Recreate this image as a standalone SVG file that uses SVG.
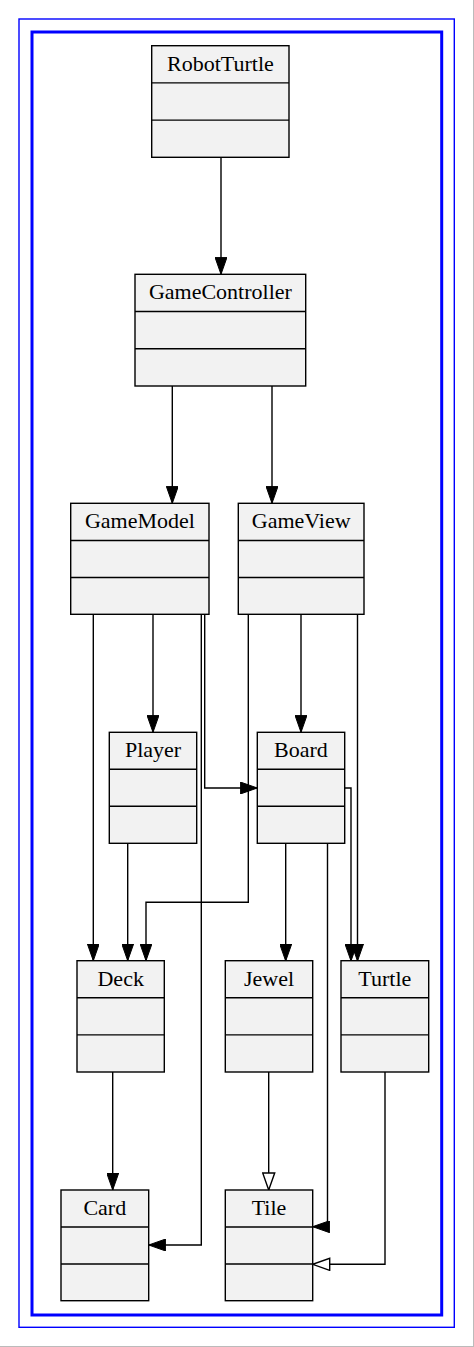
<svg xmlns="http://www.w3.org/2000/svg" width="474" height="1347" viewBox="0 0 474 1347">
<style>
.box{fill:#f2f2f2;stroke:#000;stroke-width:1.4}
.sep{stroke:#000;stroke-width:1.4}
text{font-family:'Liberation Serif','Times New Roman',Times,'DejaVu Serif',serif;font-size:22px;fill:#000;text-anchor:middle}
.e{fill:none;stroke:#000;stroke-width:1.4}
.f{marker-end:url(#filled)}
.h{marker-end:url(#hollow)}
</style>
<defs>
<marker id="filled" viewBox="0 0 17 12" refX="17" refY="6" markerWidth="17" markerHeight="12" markerUnits="userSpaceOnUse" orient="auto">
<path d="M0,0 L17,6 L0,12 Z" fill="#000" stroke="#000" stroke-width="1"/>
</marker>
<marker id="hollow" viewBox="-1 -1 19 14" refX="17" refY="6" markerWidth="19" markerHeight="14" markerUnits="userSpaceOnUse" orient="auto">
<path d="M0,0 L17,6 L0,12 Z" fill="#fff" stroke="#000" stroke-width="1.4"/>
</marker>
</defs>
<rect x="0" y="0" width="474" height="1347" fill="#fff"/>
<line x1="473.5" y1="0" x2="473.5" y2="1347" stroke="#bbb" stroke-width="1"/>
<line x1="0" y1="1346.5" x2="474" y2="1346.5" stroke="#bbb" stroke-width="1"/>
<rect x="19" y="19" width="435.3" height="1308.3" fill="none" stroke="#0000ff" stroke-width="1.4"/>
<rect x="32" y="32" width="409.7" height="1283" fill="none" stroke="#0000ff" stroke-width="3"/>

<g id="connectors">
<path class="e f" d="M221,157.3 V274.3"/>
<path class="e f" d="M172.3,386 V503.3"/>
<path class="e f" d="M272,386 V503.3"/>
<path class="e f" d="M93.3,614.3 V960.7"/>
<path class="e f" d="M153,614.3 V732.3"/>
<path class="e f" d="M201.3,614.3 V1245 H148.7"/>
<path class="e f" d="M204.7,614.3 V788 H257.3"/>
<path class="e f" d="M248.3,614.3 V902.3 H146 V960.7"/>
<path class="e f" d="M301,614.3 V732.3"/>
<path class="e f" d="M357.5,614.3 V961"/>
<path class="e f" d="M127.7,843.3 V960.7"/>
<path class="e f" d="M285.7,843.3 V961"/>
<path class="e f" d="M327.5,843.3 V1226.7 H312.7"/>
<path class="e f" d="M344.7,788 H351 V961"/>
<path class="e h" d="M268.7,1072 V1190"/>
<path class="e h" d="M385,1072 V1264.3 H312.7"/>
<path class="e f" d="M112.7,1072 V1190"/>
</g>

<g id="RobotTurtle">
<rect class="box" x="151.7" y="45.7" width="137.3" height="111.6"/>
<line class="sep" x1="151.7" y1="82.9" x2="289" y2="82.9"/>
<line class="sep" x1="151.7" y1="120.1" x2="289" y2="120.1"/>
<text x="220.4" y="70.5" font-family="Liberation Serif, serif">RobotTurtle</text>
</g>
<g id="GameController">
<rect class="box" x="135" y="274.3" width="170.7" height="111.7"/>
<line class="sep" x1="135" y1="311.5" x2="305.7" y2="311.5"/>
<line class="sep" x1="135" y1="348.8" x2="305.7" y2="348.8"/>
<text x="220.4" y="299" font-family="Liberation Serif, serif">GameController</text>
</g>
<g id="GameModel">
<rect class="box" x="70.7" y="503.3" width="138.3" height="111"/>
<line class="sep" x1="70.7" y1="540.5" x2="209" y2="540.5"/>
<line class="sep" x1="70.7" y1="577.5" x2="209" y2="577.5"/>
<text x="139.9" y="528" font-family="Liberation Serif, serif">GameModel</text>
</g>
<g id="GameView">
<rect class="box" x="238.3" y="503.3" width="125.7" height="111"/>
<line class="sep" x1="238.3" y1="540.5" x2="364" y2="540.5"/>
<line class="sep" x1="238.3" y1="577.5" x2="364" y2="577.5"/>
<text x="301.2" y="528" font-family="Liberation Serif, serif">GameView</text>
</g>
<g id="Player">
<rect class="box" x="109.3" y="732.3" width="87.4" height="111"/>
<line class="sep" x1="109.3" y1="769.3" x2="196.7" y2="769.3"/>
<line class="sep" x1="109.3" y1="806.3" x2="196.7" y2="806.3"/>
<text x="153" y="757" font-family="Liberation Serif, serif">Player</text>
</g>
<g id="Board">
<rect class="box" x="257.3" y="732.3" width="87.4" height="111"/>
<line class="sep" x1="257.3" y1="769.3" x2="344.7" y2="769.3"/>
<line class="sep" x1="257.3" y1="806.3" x2="344.7" y2="806.3"/>
<text x="301" y="757" font-family="Liberation Serif, serif">Board</text>
</g>
<g id="Deck">
<rect class="box" x="77" y="960.7" width="87.3" height="111.3"/>
<line class="sep" x1="77" y1="997.8" x2="164.3" y2="997.8"/>
<line class="sep" x1="77" y1="1034.9" x2="164.3" y2="1034.9"/>
<text x="120.7" y="985.5" font-family="Liberation Serif, serif">Deck</text>
</g>
<g id="Jewel">
<rect class="box" x="225.3" y="960.7" width="87.4" height="111.3"/>
<line class="sep" x1="225.3" y1="997.8" x2="312.7" y2="997.8"/>
<line class="sep" x1="225.3" y1="1034.9" x2="312.7" y2="1034.9"/>
<text x="269" y="985.5" font-family="Liberation Serif, serif">Jewel</text>
</g>
<g id="Turtle">
<rect class="box" x="341" y="960.7" width="87.7" height="111.3"/>
<line class="sep" x1="341" y1="997.8" x2="428.7" y2="997.8"/>
<line class="sep" x1="341" y1="1034.9" x2="428.7" y2="1034.9"/>
<text x="384.8" y="985.5" font-family="Liberation Serif, serif">Turtle</text>
</g>
<g id="Card">
<rect class="box" x="61" y="1190" width="87.7" height="110.7"/>
<line class="sep" x1="61" y1="1227" x2="148.7" y2="1227"/>
<line class="sep" x1="61" y1="1264" x2="148.7" y2="1264"/>
<text x="104.8" y="1214.5" font-family="Liberation Serif, serif">Card</text>
</g>
<g id="Tile">
<rect class="box" x="225.3" y="1190" width="87.4" height="110.7"/>
<line class="sep" x1="225.3" y1="1227" x2="312.7" y2="1227"/>
<line class="sep" x1="225.3" y1="1264" x2="312.7" y2="1264"/>
<text x="269" y="1214.5" font-family="Liberation Serif, serif">Tile</text>
</g>
</svg>
